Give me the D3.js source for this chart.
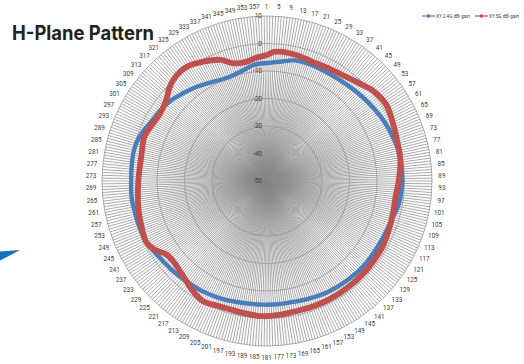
<!DOCTYPE html>
<html><head><meta charset="utf-8">
<script src="https://cdn.jsdelivr.net/npm/d3@7"></script>
<style>html,body{margin:0;padding:0;background:#fff;overflow:hidden}svg{display:block}</style>
</head><body>
<svg id="c" width="524" height="364"></svg>
<script>
// ---- data ----
const title = "H-Plane Pattern";
const seriesNames = ["XY 2.4G dBi gain", "XY 5G dBi gain"];
const radialTicks = [10, 0, -10, -20, -30, -40, -50];
const categoryCount = 360;            // categories 1..360 (degrees)
const angleLabels = d3.range(1, 361, 4); // 1,5,9,...,357

// 2.4G readings (angle in degrees, gain dBi)
const blueAngles = [0,6,13,20,30,40,48,56,64,70,75,80,87,93,100,105,112,120,132,141,151,160,167,175,182,191,202,211,218,226,235,242,249,254,263,270,276,282,286,292,296,303,310,316,323,330,336,341,348,353,357];
const blueValues = [-7.1,-6.4,-5.0,-4.8,-4.9,-4.5,-3.8,-3.0,-2.1,-1.6,-1.1,-0.9,-0.8,-0.9,-1.35,-2.2,-2.9,-3.2,-3.2,-3.6,-4.0,-4.6,-5.0,-5.0,-5.0,-4.8,-4.1,-3.5,-3.2,-2.7,-2.0,-1.0,-0.7,-0.7,-0.4,-0.6,-0.5,-0.35,-0.5,-1.5,-2.5,-3.4,-4.4,-5.8,-7.2,-8.7,-9.6,-9.7,-8.8,-7.6,-7.2];
// 5G readings
const redAngles = [0,3,7,13,21,29,38,45,49,57,64,72,81,90,97,103,110,119,126,133,142,152,160,168,175,182,190,200,208,214,219,224,229,234,238,243,249,255,260,270,282,290,297,302,309,313,317,322,326,332,339,344,350,355];
const redValues = [-4.2,-3.0,-2.7,-3.0,-3.6,-3.3,-2.3,-0.7,0.5,1.5,0.6,-0.4,-0.9,-2.1,-2.9,-2.8,-2.4,-1.7,-1.6,-1.45,-1.4,-1.35,-1.4,-1.5,-1.1,-0.8,-1.2,-1.35,-0.5,-1.75,-3.3,-4.4,-5.1,-4.7,-2.4,-0.8,-1.35,-1.9,-2.4,-3.2,-3.35,-2.6,-3.6,-4.0,-2.9,-1.2,0.1,0.8,0.6,-0.8,-2.8,-5.5,-6.0,-5.0];

// ---- layout ----
const svg = d3.select("#c");
const cx = 267, cy = 181, R = 165;
const rScale = d3.scaleLinear().domain([-50, 10]).range([0, R]);
const aScale = d3.scaleLinear().domain([0, 360]).range([0, 2 * Math.PI]);
const g = svg.append("g").attr("transform", `translate(${cx},${cy})`);

// spokes
const cats = d3.range(1, categoryCount + 1);
g.append("g").selectAll("line").data(cats).join("line")
  .attr("x1", 0).attr("y1", 0)
  .attr("x2", d => R * Math.sin(aScale(d - 1)))
  .attr("y2", d => -R * Math.cos(aScale(d - 1)))
  .attr("stroke", "#888").attr("stroke-width", 0.72);

// rings
g.append("g").selectAll("circle").data(radialTicks.filter(t => t > -50)).join("circle")
  .attr("r", d => rScale(d)).attr("fill", "none")
  .attr("stroke", "#999").attr("stroke-width", 0.8);

// radial tick labels
g.append("g").selectAll("text").data(radialTicks).join("text")
  .attr("x", -5).attr("y", d => -rScale(d))
  .attr("text-anchor", "end").attr("dominant-baseline", "central")
  .attr("font-family", "Roboto, sans-serif").attr("font-size", 6.5).attr("fill", "#404040")
  .text(d => d);

// angle labels
g.append("g").selectAll("text").data(angleLabels).join("text")
  .attr("x", d => 175.5 * Math.sin(aScale(d - 1)) - 0.5)
  .attr("y", d => -175.5 * Math.cos(aScale(d - 1)) + 1.2)
  .attr("text-anchor", "middle").attr("dominant-baseline", "central")
  .attr("font-family", "Roboto, sans-serif").attr("font-size", 6.3).attr("fill", "#404040")
  .text(d => d);

// series
const radial = d3.lineRadial()
  .angle(d => aScale(d[0])).radius(d => rScale(d[1]))
  .curve(d3.curveCatmullRomClosed.alpha(0.5));
const blue = blueAngles.map((a, i) => [a, blueValues[i]]);
const red = redAngles.map((a, i) => [a, redValues[i]]);
g.append("path").attr("d", radial(blue)).attr("fill", "none")
  .attr("stroke", "#4a7ebb").attr("stroke-width", 4.4).attr("stroke-linejoin", "round");
g.append("path").attr("d", radial(red)).attr("fill", "none")
  .attr("stroke", "#c0504d").attr("stroke-width", 5.8).attr("stroke-linejoin", "round");

// title
svg.append("text").attr("x", 12).attr("y", 39.5)
  .attr("font-family", "Inter, 'Noto Sans', sans-serif").attr("font-weight", 700)
  .attr("font-size", 19.5).attr("textLength", 142).attr("lengthAdjust", "spacingAndGlyphs")
  .attr("fill", "#222").text(title);

// legend
const legendX = [422, 475], legendColors = ["#4a7ebb", "#c0504d"];
const lg = svg.append("g");
seriesNames.forEach((n, i) => {
  lg.append("line").attr("x1", legendX[i]).attr("x2", legendX[i] + 13).attr("y1", 16).attr("y2", 16)
    .attr("stroke", legendColors[i]).attr("stroke-width", 1.2);
  lg.append("rect").attr("x", legendX[i] + 5).attr("y", 14.5).attr("width", 3).attr("height", 3)
    .attr("fill", legendColors[i]);
  lg.append("text").attr("x", legendX[i] + 14).attr("y", 16).attr("dominant-baseline", "central")
    .attr("font-family", "Roboto, sans-serif").attr("font-size", 4.6).attr("fill", "#404040").text(n);
});

// stray blue arrow fragment at left edge
svg.append("polygon").attr("points", "0,251.5 20,250 5,258 0,260.5").attr("fill", "#1a6fc4");
</script>
</body></html>
